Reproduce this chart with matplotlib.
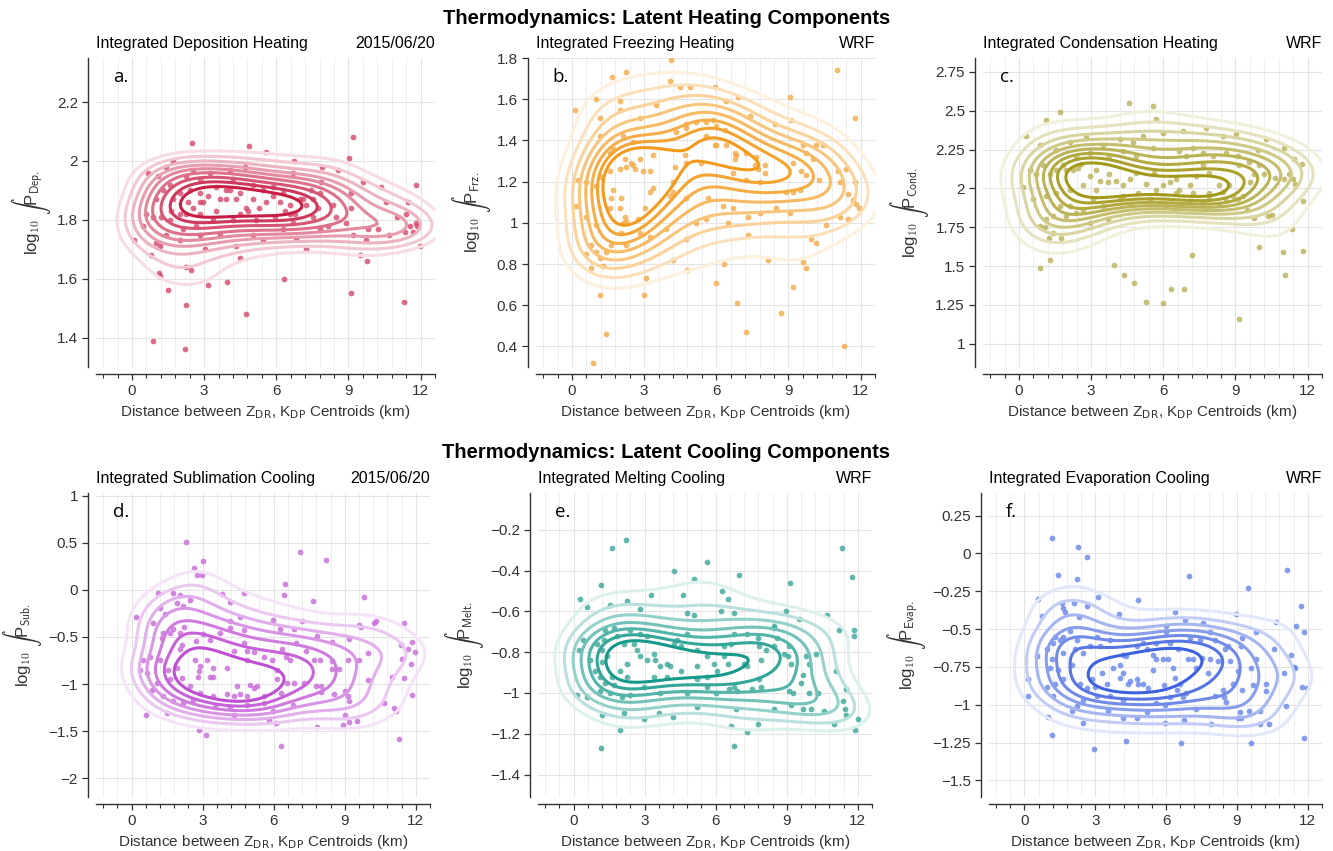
import matplotlib
matplotlib.use("Agg")
import matplotlib.pyplot as plt
import numpy as np
from matplotlib.colors import LinearSegmentedColormap, to_rgb
from matplotlib.ticker import FuncFormatter, MultipleLocator

plt.rcParams["font.family"] = ["Liberation Sans", "DejaVu Sans"]

# (distance km, log10 integrated rate) for each storm sample
DEP = [(2.49, 2.06), (9.19, 2.08), (5.56, 2.03), (4.86, 2.05), (6.72, 2.0), (7.91, 1.98), (8.56, 1.97),
       (9.02, 2.01), (11.82, 1.92), (10.36, 1.91), (9.60, 1.93), (9.09, 1.89), (10.57, 1.86), (11.47, 1.86),
       (11.0, 1.81), (11.4, 1.82), (11.8, 1.79), (11.87, 1.78), (11.54, 1.78), (11.35, 1.76), (11.68, 1.76),
       (10.67, 1.75), (10.23, 1.77), (9.81, 1.77), (9.71, 1.73), (9.19, 1.75), (9.12, 1.84), (8.91, 1.79),
       (9.78, 1.66), (9.46, 1.68), (11.99, 1.71), (11.29, 1.52), (9.09, 1.55), (6.32, 1.60), (4.75, 1.48),
       (3.95, 1.59), (3.16, 1.58), (2.45, 1.63), (2.26, 1.64), (2.26, 1.51), (2.22, 1.36), (0.87, 1.39),
       (1.50, 1.56), (1.16, 1.61), (1.11, 1.62), (0.08, 1.73), (0.80, 1.68), (1.01, 1.72), (3.02, 1.70),
       (4.48, 1.67), (7.25, 1.70), (4.34, 1.71), (5.45, 1.73), (1.70, 2.0), (1.43, 1.98), (1.09, 1.95),
       (0.67, 1.96), (0.6, 1.82), (1.01, 1.87), (1.22, 1.81), (1.64, 1.83), (1.98, 1.82), (2.33, 1.86),
       (2.54, 1.84), (2.81, 1.82), (3.16, 1.88), (3.51, 1.83), (3.92, 1.87), (4.06, 1.90), (4.34, 1.87),
       (4.75, 1.84), (4.82, 1.83), (5.03, 1.87), (5.58, 1.86), (5.86, 1.88), (6.14, 1.86), (6.35, 1.83),
       (6.55, 1.85), (6.76, 1.82), (6.97, 1.87), (7.25, 1.85), (7.46, 1.90), (7.73, 1.84), (7.83, 1.89),
       (7.87, 1.93), (8.15, 1.78), (7.52, 1.81), (6.28, 1.89), (5.86, 1.91), (5.03, 1.92), (4.2, 1.94),
       (3.51, 1.91), (2.81, 1.94), (2.26, 1.95), (3.23, 1.96), (4.68, 1.98), (2.40, 1.90), (1.57, 1.92),
       (1.29, 1.90), (1.70, 1.87), (1.98, 1.89), (2.81, 1.89), (4.48, 1.89), (3.92, 1.90), (5.45, 1.90),
       (6.55, 1.82), (5.93, 1.81), (5.17, 1.80), (4.2, 1.80), (3.37, 1.80), (2.67, 1.78), (2.12, 1.77),
       (1.43, 1.75), (0.87, 1.81), (0.46, 1.78), (2.81, 1.75), (3.64, 1.75), (5.03, 1.75), (6.28, 1.77),
       (6.83, 1.74), (7.80, 1.77), (8.36, 1.85), (8.5, 1.81), (7.52, 1.87), (7.1, 1.87), (5.3, 1.84),
       (4.48, 1.82), (2.26, 1.82), (2.95, 1.86), (3.64, 1.87), (1.57, 1.80), (1.98, 1.73), (1.15, 1.71),
       (6.69, 1.79), (2.54, 1.97), (4.06, 1.97), (6.69, 1.96), (2.81, 1.86)]

FRZ = [(4.10, 1.79), (2.26, 1.73), (1.68, 1.71), (0.11, 1.55), (1.0, 1.60), (1.98, 1.59), (9.05, 1.61),
       (11.75, 1.51), (11.0, 1.74), (4.06, 1.69), (4.48, 1.66), (4.89, 1.66), (5.93, 1.66), (6.42, 1.59),
       (3.51, 1.57), (2.81, 1.51), (1.98, 1.55), (1.15, 1.51), (6.9, 1.61), (7.39, 1.52), (8.43, 1.48),
       (9.12, 1.50), (4.75, 1.48), (5.17, 1.49), (5.58, 1.49), (5.86, 1.50), (6.0, 1.47), (6.35, 1.45),
       (5.58, 1.42), (4.34, 1.44), (4.75, 1.46), (5.93, 1.38), (6.76, 1.34), (7.25, 1.34), (7.66, 1.32),
       (8.01, 1.28), (6.76, 1.31), (7.59, 1.28), (9.19, 1.29), (9.53, 1.25), (9.74, 1.23), (10.29, 1.21),
       (11.13, 1.20), (11.06, 1.25), (11.4, 1.26), (11.75, 1.20), (11.47, 1.14), (11.68, 1.11),
       (11.82, 1.09), (11.93, 1.07), (11.47, 1.02), (10.57, 0.99), (10.15, 0.90), (9.95, 0.92), (9.05, 1.05),
       (8.91, 1.15), (9.46, 1.16), (9.19, 1.15), (9.6, 0.81), (9.74, 0.78), (9.19, 0.69), (8.70, 0.56),
       (8.15, 0.82), (6.87, 0.61), (7.22, 0.47), (5.97, 0.71), (6.32, 0.80), (4.78, 0.77), (4.2, 0.82),
       (2.98, 0.65), (3.09, 0.73), (1.4, 0.46), (1.15, 0.65), (0.85, 0.32), (11.33, 0.40), (0.78, 0.78),
       (1.29, 0.79), (1.43, 0.86), (1.64, 0.89), (2.26, 0.89), (2.05, 0.95), (2.81, 0.95), (3.23, 0.93),
       (3.92, 0.97), (4.75, 0.92), (5.17, 1.0), (5.58, 1.02), (6.48, 1.0), (7.32, 0.94), (7.32, 1.03),
       (7.8, 1.05), (8.49, 1.07), (6.28, 1.08), (6.69, 1.07), (5.65, 1.12), (4.75, 1.12), (4.2, 1.15),
       (4.06, 1.13), (4.2, 1.20), (4.27, 1.27), (4.75, 1.29), (5.36, 1.29), (4.68, 1.33), (6.0, 1.38),
       (6.42, 1.38), (6.83, 1.33), (7.73, 1.26), (8.01, 1.24), (7.8, 1.20), (7.25, 1.21), (6.69, 1.24),
       (2.95, 1.25), (3.23, 1.25), (2.6, 1.26), (2.47, 1.29), (2.54, 1.28), (2.26, 1.27), (3.37, 1.17),
       (3.26, 1.15), (3.02, 1.07), (3.37, 1.33), (2.81, 1.31), (2.19, 1.31), (1.57, 1.25), (1.98, 1.26),
       (1.7, 1.16), (1.64, 1.12), (2.05, 1.12), (1.98, 1.07), (1.57, 1.07), (2.19, 1.03), (2.12, 1.0),
       (2.74, 1.02), (2.26, 1.01), (1.01, 1.18), (1.22, 1.22), (0.6, 1.20), (0.25, 1.21), (0.18, 1.08),
       (0.6, 1.03), (1.01, 0.99), (0.8, 0.89), (0.6, 0.85), (1.15, 0.83), (1.01, 0.86), (1.57, 1.34),
       (1.7, 1.36), (1.15, 1.42), (2.12, 1.42), (2.54, 1.39), (10.02, 1.31), (10.15, 1.38), (9.6, 1.38),
       (9.74, 1.34), (10.43, 1.38), (11.13, 1.03)]

COND = [(4.57, 2.55), (5.56, 2.53), (1.13, 2.44), (1.72, 2.49), (5.70, 2.45), (7.78, 2.39), (6.81, 2.37),
        (9.02, 2.35), (8.47, 2.34), (10.27, 2.32), (9.92, 2.25), (11.03, 2.26), (11.45, 2.19), (11.75, 2.16),
        (11.24, 2.09), (11.38, 2.06), (11.49, 2.03), (11.03, 2.06), (10.64, 2.07), (10.2, 2.09), (9.79, 2.09),
        (9.61, 2.04), (9.3, 1.95), (9.48, 1.86), (9.79, 1.81), (10.34, 1.82), (10.52, 1.83), (11.79, 1.92),
        (11.35, 1.74), (9.96, 1.62), (10.96, 1.59), (11.79, 1.60), (11.06, 1.44), (9.16, 1.16), (7.2, 1.57),
        (6.87, 1.35), (6.33, 1.35), (5.98, 1.26), (5.26, 1.27), (4.78, 1.39), (4.36, 1.44), (3.94, 1.51),
        (1.27, 1.54), (0.86, 1.49), (1.25, 1.68), (1.73, 1.68), (1.41, 1.71), (1.07, 1.75), (0.86, 1.76),
        (1.13, 1.80), (1.41, 1.82), (2.1, 1.89), (2.66, 1.86), (3.07, 1.93), (3.49, 1.89), (4.18, 1.93),
        (4.6, 1.90), (5.43, 1.93), (6.12, 1.89), (6.46, 1.86), (7.09, 1.92), (7.64, 1.91), (7.92, 1.93),
        (8.33, 1.90), (8.61, 1.92), (8.89, 1.95), (9.09, 1.93), (8.47, 1.98), (8.75, 2.02), (8.33, 2.02),
        (7.92, 2.10), (7.64, 2.15), (7.36, 2.08), (7.09, 2.02), (6.67, 1.99), (6.53, 2.06), (6.26, 2.04),
        (5.98, 2.02), (5.63, 2.10), (5.29, 2.03), (4.87, 2.10), (4.6, 2.06), (4.32, 2.02), (4.04, 2.05),
        (3.76, 2.09), (3.69, 2.04), (3.35, 2.05), (3.21, 2.12), (2.93, 2.08), (2.59, 2.16), (2.45, 2.13),
        (2.24, 2.12), (1.97, 2.12), (1.83, 2.15), (1.55, 2.12), (1.27, 2.09), (1.0, 2.15), (0.72, 2.09),
        (0.44, 2.12), (0.17, 2.01), (0.58, 1.93), (0.3, 2.34), (0.86, 2.28), (1.55, 2.25), (2.1, 2.30),
        (2.8, 2.33), (3.49, 2.28), (4.18, 2.32), (4.73, 2.30), (5.15, 2.34), (5.56, 2.26), (5.98, 2.36),
        (6.67, 2.24), (6.95, 2.21), (7.22, 2.26), (7.64, 2.23), (8.06, 2.21), (8.61, 2.23), (9.09, 2.21),
        (9.16, 2.15), (9.58, 2.17), (10.0, 2.15), (2.38, 2.21), (2.93, 2.23), (3.76, 2.21), (4.32, 2.24),
        (4.87, 2.21), (2.66, 2.02), (2.1, 1.99), (3.21, 1.99), (4.32, 1.95), (1.55, 1.97), (1.13, 1.95),
        (1.69, 1.89), (4.94, 1.97), (5.7, 1.99), (6.53, 1.97), (7.22, 1.97), (7.92, 1.97), (1.97, 1.82),
        (2.38, 1.84), (2.93, 1.78), (3.69, 1.80)]

SUB = [(2.29, 0.51), (3.01, 0.31), (2.64, 0.23), (2.75, 0.16), (2.96, 0.16), (7.13, 0.40), (8.19, 0.32),
       (6.49, 0.06), (6.42, -0.05), (4.73, -0.03), (3.81, -0.04), (4.17, -0.13), (7.65, -0.12), (9.81, -0.07),
       (1.13, -0.03), (1.76, -0.03), (2.05, -0.05), (1.91, -0.14), (2.19, -0.17), (2.47, -0.11), (1.2, -0.19),
       (1.41, -0.26), (0.17, -0.29), (2.22, -0.39), (1.76, -0.42), (1.34, -0.46), (0.92, -0.35), (1.27, -0.51),
       (1.62, -0.46), (2.05, -0.46), (2.72, -0.54), (3.32, -0.53), (3.01, -0.47), (4.17, -0.33), (4.17, -0.40),
       (4.56, -0.29), (4.73, -0.43), (3.74, -0.46), (4.73, -0.56), (5.99, -0.32), (6.28, -0.42), (6.84, -0.42),
       (7.2, -0.33), (6.94, -0.56), (7.81, -0.49), (8.45, -0.55), (9.2, -0.52), (9.6, -0.37), (9.67, -0.39),
       (10.24, -0.35), (10.31, -0.33), (11.51, -0.35), (11.39, -0.58), (11.83, -0.55), (11.67, -0.63),
       (11.96, -0.66), (11.43, -0.73), (11.78, -0.79), (11.51, -0.94), (11.83, -1.12), (11.01, -0.92),
       (10.66, -1.2), (11.08, -1.25), (11.15, -1.29), (11.29, -1.58), (10.0, -0.67), (9.97, -0.96),
       (9.6, -0.74), (9.15, -0.74), (8.47, -0.75), (8.76, -0.84), (8.45, -0.84), (7.69, -0.74), (7.96, -0.74),
       (7.38, -0.65), (7.98, -1.08), (7.98, -1.02), (7.77, -1.02), (7.27, -0.99), (9.03, -1.07), (9.13, -1.13),
       (9.2, -1.18), (9.03, -1.33), (8.92, -1.43), (9.2, -1.40), (9.53, -1.39), (7.81, -1.46), (6.33, -1.66),
       (5.99, -1.29), (6.09, -1.41), (6.82, -1.22), (6.33, -1.1), (6.14, -0.95), (6.56, -0.99), (6.52, -0.71),
       (6.7, -0.74), (6.35, -0.63), (5.93, -0.74), (5.58, -0.71), (5.15, -0.66), (4.87, -0.65), (4.31, -0.65),
       (4.87, -0.74), (4.02, -0.83), (3.46, -0.83), (3.32, -0.92), (3.46, -0.92), (2.85, -0.86), (2.82, -0.93),
       (2.12, -0.94), (1.62, -0.95), (1.91, -0.83), (1.55, -0.85), (2.05, -0.63), (2.12, -0.58), (2.68, -0.74),
       (3.18, -0.74), (2.89, -0.81), (1.2, -0.74), (0.78, -0.71), (0.49, -0.74), (0.35, -0.85), (0.64, -0.88),
       (1.06, -0.99), (0.85, -1.06), (1.34, -1.13), (1.76, -1.18), (2.19, -1.2), (2.61, -1.17), (2.47, -1.02),
       (2.89, -1.1), (3.46, -1.13), (4.02, -1.11), (4.31, -1.13), (4.59, -1.11), (4.87, -1.13), (4.45, -1.02),
       (5.01, -1.01), (5.15, -1.04), (5.29, -1.02), (5.58, -1.13), (5.58, -1.2), (4.87, -1.22), (4.17, -1.24),
       (3.53, -1.24), (1.48, -1.31), (0.59, -1.33), (2.85, -1.49), (3.15, -1.54), (4.31, -1.33), (5.79, -1.38),
       (6.14, -0.85), (6.84, -0.99), (8.54, -1.11)]

MELT = [(2.22, -0.25), (1.62, -0.29), (5.65, -0.36), (4.24, -0.40), (5.08, -0.44), (6.99, -0.42), (11.34, -0.29),
        (11.75, -0.43), (1.17, -0.47), (9.13, -0.46), (3.25, -0.52), (4.62, -0.52), (6.25, -0.50), (6.52, -0.54),
        (0.28, -0.54), (0.56, -0.58), (1.55, -0.57), (2.26, -0.55), (2.82, -0.59), (4.8, -0.61), (5.08, -0.62),
        (6.21, -0.60), (6.78, -0.61), (8.96, -0.60), (9.53, -0.64), (10.7, -0.62), (8.47, -0.67), (11.2, -0.69),
        (11.82, -0.69), (11.86, -0.72), (11.08, -0.89), (11.51, -0.98), (11.39, -1.04), (11.46, -1.08),
        (11.5, -1.11), (12.0, -1.13), (11.9, -1.18), (11.0, -1.15), (10.59, -1.09), (9.93, -1.0), (10.3, -1.0),
        (9.67, -0.91), (9.6, -0.95), (9.93, -0.86), (10.24, -0.81), (9.81, -0.82), (9.1, -0.77), (9.04, -0.82),
        (9.18, -0.86), (9.08, -0.99), (9.25, -1.0), (9.18, -1.06), (9.67, -1.08), (10.02, -1.08), (8.89, -0.81),
        (8.47, -0.77), (8.12, -0.79), (7.84, -0.77), (7.77, -0.73), (7.34, -0.71), (7.91, -0.84), (7.2, -0.86),
        (7.34, -0.87), (7.84, -0.93), (7.91, -0.97), (7.55, -0.98), (6.92, -0.99), (6.78, -0.97), (6.57, -0.98),
        (6.0, -1.0), (5.65, -0.97), (5.22, -0.93), (4.8, -1.0), (3.67, -1.0), (2.96, -0.97), (2.4, -1.01),
        (2.05, -1.02), (1.55, -1.0), (1.13, -0.99), (0.56, -1.02), (0.14, -1.01), (0.21, -0.79), (0.42, -0.74),
        (0.71, -0.84), (0.92, -0.89), (1.13, -0.92), (1.34, -0.95), (1.69, -0.96), (0.99, -0.76), (1.2, -0.79),
        (1.27, -0.74), (1.34, -0.69), (1.69, -0.68), (1.84, -0.72), (2.12, -0.76), (2.4, -0.69), (2.54, -0.76),
        (2.82, -0.71), (3.11, -0.72), (2.68, -0.79), (2.82, -0.82), (3.11, -0.84), (3.39, -0.81), (3.46, -0.84),
        (3.67, -0.87), (3.95, -0.86), (4.09, -0.87), (4.24, -0.76), (4.38, -0.74), (4.52, -0.77), (4.8, -0.71),
        (5.22, -0.79), (5.65, -0.82), (5.93, -0.86), (6.07, -0.89), (6.35, -0.82), (6.5, -0.86), (6.35, -0.77),
        (6.64, -0.76), (6.78, -0.71), (5.65, -0.92), (5.22, -0.87), (4.52, -0.89), (3.95, -0.92), (3.39, -0.92),
        (2.26, -0.92), (1.98, -0.89), (1.62, -0.92), (1.2, -0.85), (1.41, -0.82), (2.26, -0.86), (2.12, -1.1),
        (1.2, -1.11), (1.98, -1.18), (1.17, -1.27), (2.96, -1.13), (3.6, -1.1), (4.19, -1.12), (5.22, -1.07),
        (6.64, -1.16), (6.78, -1.26), (7.31, -1.19), (7.77, -1.15), (6.85, -1.08), (8.47, -1.08), (8.61, -0.73),
        (8.47, -0.68)]

EVAP = [(1.15, 0.10), (2.25, 0.04), (2.66, -0.02), (1.44, -0.14), (2.21, -0.17), (6.96, -0.15), (11.13, -0.11),
        (9.46, -0.23), (3.13, -0.29), (0.59, -0.30), (4.79, -0.31), (1.58, -0.33), (2.11, -0.33), (2.63, -0.35),
        (1.62, -0.36), (1.72, -0.39), (0.73, -0.41), (2.32, -0.42), (4.0, -0.40), (6.39, -0.39), (6.79, -0.44),
        (8.97, -0.40), (10.66, -0.45), (11.69, -0.35), (11.51, -0.48), (11.82, -0.52), (9.79, -0.52),
        (9.21, -0.56), (9.18, -0.61), (10.56, -0.63), (11.27, -0.67), (11.44, -0.76), (11.41, -0.75),
        (11.01, -0.79), (11.76, -0.88), (11.97, -0.89), (11.06, -1.01), (11.83, -1.22), (10.24, -0.86),
        (10.24, -0.91), (9.96, -1.04), (9.96, -1.13), (10.35, -1.13), (9.6, -1.25), (9.5, -1.04), (9.18, -1.09),
        (9.04, -1.09), (9.11, -1.05), (9.22, -0.90), (9.04, -0.78), (9.6, -0.76), (9.67, -0.87), (9.81, -0.70),
        (8.69, -0.71), (8.48, -0.63), (8.2, -0.71), (7.85, -0.70), (7.25, -0.76), (7.14, -0.70), (6.93, -0.70),
        (7.54, -0.69), (7.77, -0.79), (7.85, -0.52), (7.42, -0.57), (7.0, -0.56), (6.51, -0.63), (6.15, -0.59),
        (6.01, -0.52), (6.01, -0.48), (5.87, -0.70), (6.3, -0.76), (6.37, -0.82), (6.58, -0.86), (6.44, -0.90),
        (5.9, -0.87), (6.86, -0.92), (6.72, -0.95), (6.15, -0.95), (5.59, -0.99), (5.94, -1.0), (5.17, -1.05),
        (4.75, -1.09), (4.18, -1.09), (3.55, -1.04), (2.49, -1.12), (2.0, -1.04), (1.23, -0.94), (0.99, -1.08),
        (1.15, -1.2), (0.14, -0.94), (0.17, -0.83), (0.52, -0.68), (0.94, -0.63), (1.23, -0.59), (1.3, -0.55),
        (1.51, -0.57), (1.65, -0.55), (1.93, -0.51), (2.21, -0.57), (2.14, -0.63), (1.65, -0.66), (1.15, -0.70),
        (1.08, -0.76), (1.44, -0.77), (2.0, -0.74), (1.65, -0.83), (1.3, -0.86), (0.94, -0.88), (2.35, -0.86),
        (2.85, -0.83), (2.63, -0.89), (2.99, -0.88), (3.27, -0.79), (3.48, -0.86), (3.76, -0.76), (4.04, -0.82),
        (4.18, -0.79), (4.39, -0.86), (4.46, -0.84), (4.75, -0.83), (4.82, -0.86), (5.03, -0.86), (5.24, -0.89),
        (4.18, -0.67), (4.32, -0.68), (4.04, -0.74), (3.62, -0.57), (3.2, -0.61), (3.06, -0.55), (2.77, -0.61),
        (2.49, -0.66), (4.75, -0.61), (5.17, -0.63), (5.45, -0.67), (5.59, -0.70), (5.45, -0.77), (5.03, -0.59),
        (5.59, -0.59), (6.08, -0.70), (2.49, -0.97), (3.06, -0.94), (3.62, -0.94), (4.18, -0.97), (2.21, -1.01),
        (4.32, -1.24), (6.62, -1.25), (2.94, -1.29), (7.92, -1.13), (8.06, -0.94), (8.41, -0.90), (8.55, -0.98),
        (8.45, -0.95), (8.83, -0.86), (6.76, -1.10), (7.28, -1.03), (5.94, -1.12), (8.62, -0.61), (7.56, -0.46),
        (8.06, -0.57)]

TITLES = ["Integrated Deposition Heating", "Integrated Freezing Heating", "Integrated Condensation Heating",
          "Integrated Sublimation Cooling", "Integrated Melting Cooling", "Integrated Evaporation Cooling"]
SOURCES = ["2015/06/20", "WRF", "WRF", "2015/06/20", "WRF", "WRF"]
SUBSCRIPTS = ["Dep.", "Frz.", "Cond.", "Sub.", "Melt.", "Evap."]
LETTERS = ["a.", "b.", "c.", "d.", "e.", "f."]
ROW_TITLES = ["Thermodynamics: Latent Heating Components", "Thermodynamics: Latent Cooling Components"]
YTICKS = [[1.4, 1.6, 1.8, 2.0, 2.2],
          [0.4, 0.6, 0.8, 1.0, 1.2, 1.4, 1.6, 1.8],
          [1.0, 1.25, 1.5, 1.75, 2.0, 2.25, 2.5, 2.75],
          [-2.0, -1.5, -1.0, -0.5, 0.0, 0.5, 1.0],
          [-1.4, -1.2, -1.0, -0.8, -0.6, -0.4, -0.2],
          [-1.5, -1.25, -1.0, -0.75, -0.5, -0.25, 0.0, 0.25]]
YLIMS = [(1.30, 2.35), (0.30, 1.80), (0.85, 2.84), (-2.20, 1.03), (-1.51, -0.02), (-1.61, 0.40)]
# number of density contours per panel
N_CONTOURS = [9, 8, 9, 7, 7, 7]

LINE_COLORS = ["#c81e45", "#f39a1c", "#a39a1a", "#bf4ed3", "#15998a", "#3e62df"]
POINT_COLORS = ["#d4476a", "#f3a945", "#b9b055", "#c768d9", "#38a797", "#6585e8"]

W, H = 1333, 851
# axes boxes in pixels: left, top, right, bottom
BOXES = [(96, 58, 435, 367), (536, 58, 875, 367), (983, 58, 1322, 367),
         (96, 493, 430, 797), (538, 493, 872, 797), (989, 493, 1322, 797)]


def tick_fmt(v, _):
    return f"{v:g}".replace("-", "\u2212")


def light_cmap(color):
    c = np.array(to_rgb(color))
    pale = c + (1 - c) * 0.85
    return LinearSegmentedColormap.from_list("c", [pale, c])


def kde2d(x, y, xlim, ylim, n=150):
    # product gaussian kernel, Scott bandwidth, on a grid covering the axes
    f = len(x) ** (-1 / 6)
    hx, hy = np.std(x, ddof=1) * f, np.std(y, ddof=1) * f
    gx = np.linspace(xlim[0] - 2, xlim[1] + 2, n)
    gy = np.linspace(ylim[0] - 0.3, ylim[1] + 0.3, n)
    kx = np.exp(-0.5 * ((gx[:, None] - x[None, :]) / hx) ** 2) / (np.sqrt(2 * np.pi) * hx)
    ky = np.exp(-0.5 * ((gy[:, None] - y[None, :]) / hy) ** 2) / (np.sqrt(2 * np.pi) * hy)
    return gx, gy, ky @ kx.T / len(x)


def mass_to_level(z, props):
    # density values below which the given fractions of the mass lie
    vals = np.sort(z.ravel())
    cum = np.cumsum(vals)
    cum /= cum[-1]
    return vals[np.searchsorted(cum, props)]


fig = plt.figure(figsize=(W / 100, H / 100), dpi=100)

datasets = [DEP, FRZ, COND, SUB, MELT, EVAP]
for i, pts in enumerate(datasets):
    l, t, r, b = BOXES[i]
    ax = fig.add_axes([l / W, 1 - b / H, (r - l) / W, (b - t) / H])
    x, y = np.array(pts).T

    ax.set_axisbelow(True)
    ax.xaxis.set_major_locator(MultipleLocator(3))
    ax.xaxis.set_minor_locator(MultipleLocator(0.6))
    ax.grid(True, which="major", axis="both", color="#e4e4e4", lw=0.8)
    ax.grid(True, which="minor", axis="x", color="#eeeeee", lw=0.7)

    ax.scatter(x, y, s=17, color=POINT_COLORS[i], alpha=0.8, linewidths=0, zorder=2)

    gx, gy, z = kde2d(x, y, (-1.5, 12.6), YLIMS[i])
    props = np.linspace(0.22, 0.86, N_CONTOURS[i])
    ax.contour(gx, gy, z, levels=mass_to_level(z, props), cmap=light_cmap(LINE_COLORS[i]),
               linewidths=2.2, zorder=3)

    ax.set_xlim(-1.5, 12.6)
    ax.set_ylim(*YLIMS[i])
    ax.set_yticks(YTICKS[i])
    ax.yaxis.set_major_formatter(FuncFormatter(tick_fmt))

    for side in ("top", "right"):
        ax.spines[side].set_visible(False)
    ax.spines["left"].set_position(("outward", 6))
    ax.spines["bottom"].set_position(("outward", 5))
    for side in ("left", "bottom"):
        ax.spines[side].set_color("#333333")
        ax.spines[side].set_linewidth(1.0)
    ax.tick_params(axis="both", which="major", length=4, width=0.9, color="#333333",
                   labelsize=11, labelcolor="#333333", pad=3)
    ax.tick_params(axis="x", which="minor", length=3, width=0.8, color="#333333")
    ax.tick_params(axis="y", which="minor", length=0)

    ax.set_xlabel(r"Distance between Z$_{\rm DR}$, K$_{\rm DP}$ Centroids (km)",
                  fontsize=11, color="#333333", labelpad=4)
    ax.set_ylabel(r"log$_{\mathsf{10}}$ $\int$P$_{\mathsf{%s}}$" % SUBSCRIPTS[i],
                  fontsize=12, color="#333333", labelpad=3, math_fontfamily="cm")

    ax.annotate(TITLES[i], xy=(0, 1), xycoords="axes fraction", xytext=(0, 5),
                textcoords="offset points", ha="left", va="bottom", fontsize=11.5)
    ax.annotate(SOURCES[i], xy=(1, 1), xycoords="axes fraction", xytext=(0, 5),
                textcoords="offset points", ha="right", va="bottom", fontsize=11.5)
    ax.annotate(LETTERS[i], xy=(0, 1), xycoords="axes fraction", xytext=(12, -7),
                textcoords="offset points", ha="left", va="top", fontsize=13.5,
                family="Open Sans")

fig.text(0.5, 1 - 18 / H, ROW_TITLES[0], ha="center", va="center", fontsize=14.5, weight="bold")
fig.text(0.5, 1 - 453 / H, ROW_TITLES[1], ha="center", va="center", fontsize=14.5, weight="bold")

fig.savefig("out.png", dpi=100)
